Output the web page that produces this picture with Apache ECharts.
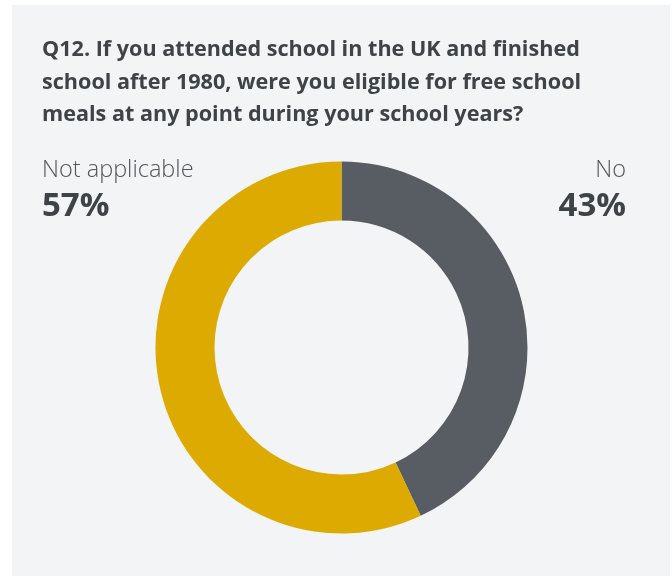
<!DOCTYPE html>
<html>
<head>
<meta charset="utf-8">
<style>
  html, body { margin: 0; padding: 0; background: #ffffff; }
  #chart { width: 672px; height: 576px; }
</style>
<script src="https://cdn.jsdelivr.net/npm/echarts@6/dist/echarts.min.js"></script>
</head>
<body>
<div id="chart"></div>
<script>
const questionLines = [
    'Q12. If you attended school in the UK and finished',
    'school after 1980, were you eligible for free school',
    'meals at any point during your school years?'
];
const categories = ['No', 'Not applicable'];
const values = [43, 57];
const colors = ['#575d63', '#dcaa00'];

const chart = echarts.init(document.getElementById('chart'), null, { renderer: 'canvas' });

const font = '"Open Sans", "Noto Sans", sans-serif';
const nameStyle = { fontFamily: font, fontSize: 23.5, fontWeight: 300, color: '#50565b' };
const pctStyle = { fontFamily: font, fontSize: 33, fontWeight: 'bold', color: '#3d4347' };

const option = {
    animation: false,
    backgroundColor: '#ffffff',
    graphic: [{
        type: 'rect',
        z: -10,
        shape: { x: 12, y: 5, width: 658, height: 571 },
        style: { fill: '#f3f4f6' }
    }],
    title: [
        {
            text: questionLines.join('\n'),
            left: 42, top: 34, padding: 0,
            textStyle: { fontFamily: font, fontSize: 21.6, fontWeight: 'bold', color: '#3d4347', lineHeight: 32.5 }
        },
        {
            // left-hand label: second category
            text: categories[1],
            subtext: values[1] + '%',
            left: 42, top: 158, padding: 0,
            itemGap: 8,
            textStyle: nameStyle,
            subtextStyle: pctStyle
        },
        {
            text: categories[0],
            subtext: values[0] + '%',
            left: 626, top: 158, padding: 0,
            textAlign: 'right',
            itemGap: 8,
            textStyle: nameStyle,
            subtextStyle: pctStyle
        }
    ],
    series: [{
        type: 'pie',
        center: [341.5, 347.5],
        radius: [127, 186],
        startAngle: 90,
        clockwise: true,
        label: { show: false },
        labelLine: { show: false },
        emphasis: { disabled: true },
        itemStyle: { borderWidth: 0 },
        data: categories.map((c, i) => ({ name: c, value: values[i], itemStyle: { color: colors[i] } }))
    }]
};

chart.setOption(option);
</script>
</body>
</html>
